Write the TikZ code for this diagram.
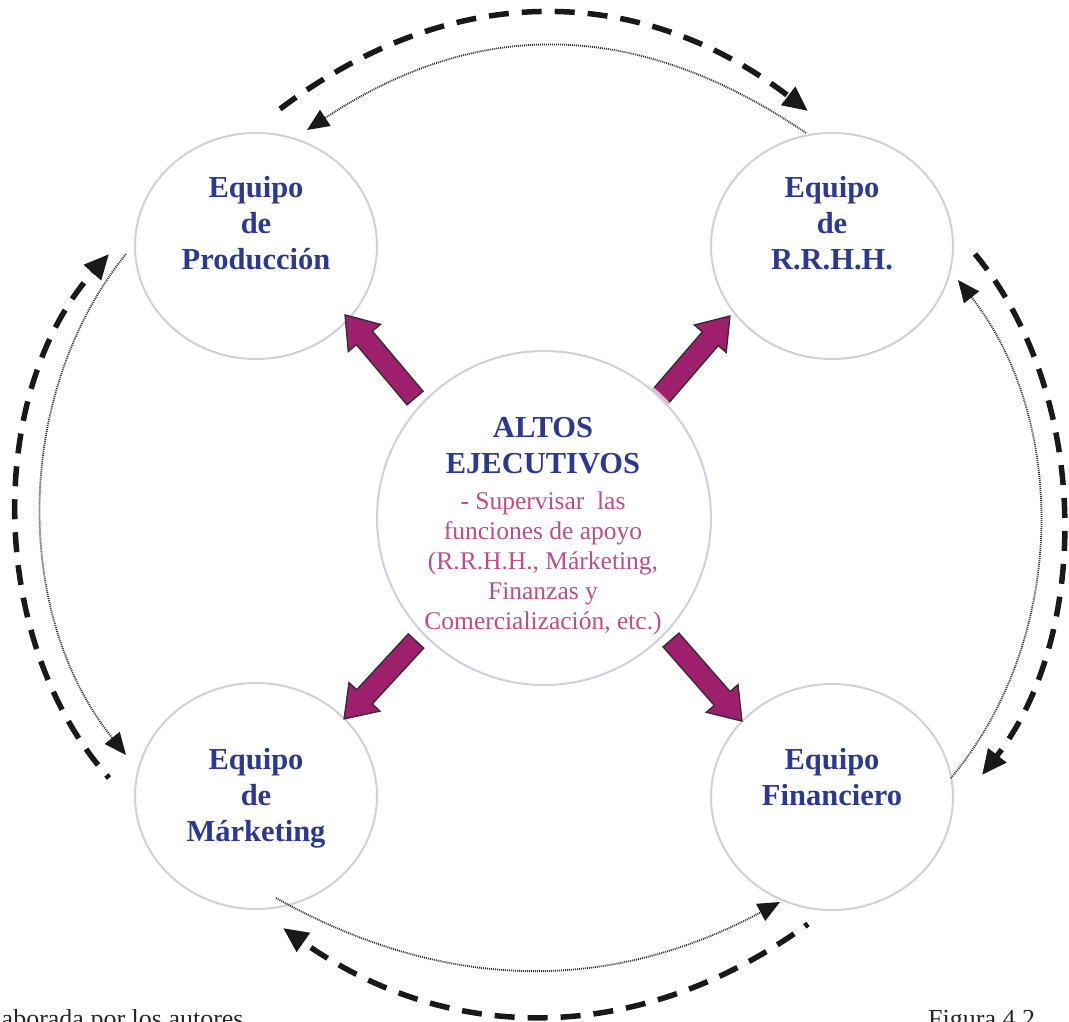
\documentclass[tikz,border=0pt]{standalone}
\usepackage{fontspec}
\setmainfont{Liberation Serif}
\usetikzlibrary{arrows.meta,shapes.geometric,calc}
\definecolor{tblue}{RGB}{44,57,144}
\definecolor{tpink}{RGB}{192,76,136}
\definecolor{apurple}{RGB}{158,32,108}
\definecolor{aedge}{RGB}{55,45,55}
\definecolor{cedge}{RGB}{208,208,220}
\definecolor{dkline}{RGB}{25,25,25}
\definecolor{dotgray}{RGB}{50,50,50}
\tikzset{
 team/.style={ellipse, draw=cedge, line width=2pt, minimum width=242pt, minimum height=226pt, inner sep=0pt},
 boss/.style={circle, draw=cedge, line width=2pt, minimum size=334pt, inner sep=0pt},
 bluetxt/.style={text=tblue, font=\fontsize{30.5}{36}\selectfont\bfseries, anchor=base, inner sep=0pt},
 pinktxt/.style={text=tpink, font=\fontsize{25.5}{30}\selectfont, anchor=base, inner sep=0pt},
 blockarr/.style={fill=apurple, draw=aedge, line width=1.4pt, line join=miter},
 bigdash/.style={draw=dkline, line width=5.5pt, dash pattern=on 20pt off 13pt, -{Triangle[length=25pt,width=22pt]}},
 dotline/.style={draw=dotgray, line width=1.8pt, dash pattern=on 1pt off 1pt, -{Triangle[length=22pt,width=19pt,color=dkline]}},
 foot/.style={text=black!85, font=\fontsize{26}{30}\selectfont, anchor=base west, inner sep=0pt},
}
\newcommand\BlockArr[3]{%
 \begin{scope}[shift={(#1)},rotate=#2]
  \draw[blockarr] (0,-10.5) -- ({#3-30},-10.5) -- ({#3-30},-21) -- (#3,0) -- ({#3-30},21) -- ({#3-30},10.5) -- (0,10.5) -- cycle;
 \end{scope}}
\begin{document}
\begin{tikzpicture}[x=1pt,y=-1pt]
\useasboundingbox (0,0) rectangle (1069,1021);
\clip (0,0) rectangle (1069,1021);
% circles
\node[team] (prod) at (256,246) {};
\node[team] (rrhh) at (832,246) {};
\node[team] (mkt) at (256,796) {};
\node[team] (fin) at (832,797) {};
% block arrows
\coordinate (nwTail) at (415,398);
\coordinate (neTail) at (660,397);
\coordinate (swTail) at (416,641);
\coordinate (seTail) at (671,640);
\BlockArr{nwTail}{130.1}{108.6}
\BlockArr{neTail}{49.2}{107}
\BlockArr{swTail}{227.3}{106}
\BlockArr{seTail}{-48.8}{107.7}
% texts
\node[bluetxt] (prodT) at (256,197) {\begin{tabular}[t]{@{}c@{}}Equipo\\de\\Producción\end{tabular}};
\node[bluetxt] (rrhhT) at (832,197) {\begin{tabular}[t]{@{}c@{}}Equipo\\de\\R.R.H.H.\end{tabular}};
\node[bluetxt] (mktT) at (256,769) {\begin{tabular}[t]{@{}c@{}}Equipo\\de\\Márketing\end{tabular}};
\node[bluetxt] (finT) at (832,769) {\begin{tabular}[t]{@{}c@{}}Equipo\\Financiero\end{tabular}};
\node[bluetxt] (bossT) at (543,437) {\begin{tabular}[t]{@{}c@{}}ALTOS\\EJECUTIVOS\end{tabular}};
\node[pinktxt] (bossP) at (543,509) {\begin{tabular}[t]{@{}c@{}}- Supervisar\ \ las\\funciones de apoyo\\(R.R.H.H., Márketing,\\Finanzas y\\Comercialización, etc.)\end{tabular}};
% central circle drawn over its text, with a soft white halo
\node[boss, preaction={draw=white, line width=7pt, opacity=0.7}] (boss) at (544,518) {};
% curved connectors
\coordinate (tdA) at (280,109); \coordinate (tdB) at (808,111);
\coordinate (toA) at (806,133); \coordinate (toB) at (307,130);
\coordinate (ldA) at (109,778); \coordinate (ldB) at (109,254);
\coordinate (loA) at (126,254); \coordinate (loB) at (126,755);
\coordinate (rdA) at (975,254); \coordinate (rdB) at (982,775);
\coordinate (roA) at (951,778); \coordinate (roB) at (958,280);
\coordinate (boA) at (276,898); \coordinate (boB) at (780,902);
\coordinate (bdA) at (808,924); \coordinate (bdB) at (283,928);
\draw[bigdash] (tdA) .. controls (450,-19) and (638,-19) .. (tdB);
\draw[dotline] (toA) .. controls (636,17.5) and (477,17.5) .. (toB);
\draw[bigdash, dash phase=16pt] (ldA) .. controls (-14,640) and (-14,392) .. (ldB);
\draw[dotline] (loA) .. controls (13,394) and (13,615) .. (loB);
\draw[bigdash] (rdA) .. controls (1091,394) and (1091,635) .. (rdB);
\draw[dotline] (roA) .. controls (1068,638) and (1068,420) .. (roB);
\draw[dotline] (boA) .. controls (446,993) and (610,993) .. (boB);
\draw[bigdash, dash phase=16pt] (bdA) .. controls (640,1046) and (450,1046) .. (bdB);
% footer
\node[foot] (src) at (-21.6,1027) {Elaborada por los autores};
\node[foot] (fig) at (928,1027) {Figura 4.2};
\end{tikzpicture}
\end{document}
